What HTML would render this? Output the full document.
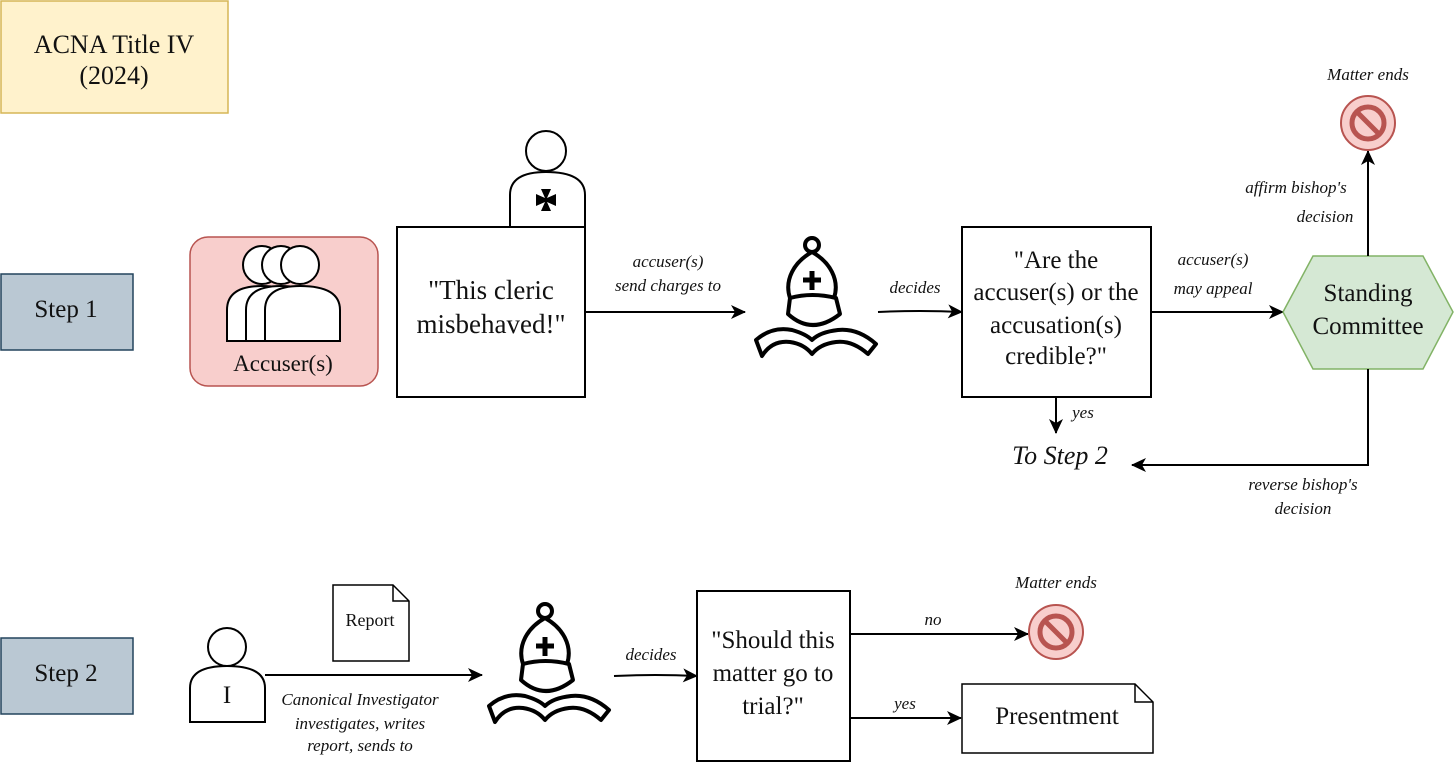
<!DOCTYPE html>
<html><head><meta charset="utf-8"><style>
body{margin:0;background:#fff}
svg text{font-family:"Liberation Serif",serif;fill:#111}
.i{font-style:italic;font-size:17px}
.b{font-size:24px}
</style></head><body>
<svg width="1456" height="764" viewBox="0 0 1456 764" xmlns="http://www.w3.org/2000/svg">
<defs>
<marker id="a" markerWidth="16" markerHeight="14" refX="14" refY="7" orient="auto" markerUnits="userSpaceOnUse">
<path d="M0,0 L15,7 L0,14 L4,7 Z" fill="#000"/></marker>
<g id="bishop" fill="#fff" stroke="#000" stroke-width="4" stroke-linejoin="round">
<circle cx="812" cy="245" r="7"/>
<path d="M790,298 C784,280 794,262 812,252 C830,262 840,280 834,298 Z"/>
<path d="M812,271 V290 M803,280 H821" stroke-width="5"/>
<path d="M790,298 Q812,292 836,298 L840,314 Q812,336 788,314 Z"/>
<path d="M756,340 Q772,326 792,330 Q806,334 812,340 Q820,332 838,330 Q858,328 876,344 L868,354 Q852,340 836,342 Q820,344 812,354 Q804,344 790,342 Q772,340 762,356 Z"/>
</g>
<g id="no">
<circle r="27" fill="#f8cecc" stroke="#b85450" stroke-width="2"/>
<circle r="16" fill="none" stroke="#b85450" stroke-width="5"/>
<line x1="-11" y1="-11" x2="11" y2="11" stroke="#b85450" stroke-width="5"/>
</g>
</defs>

<rect x="1" y="1" width="227" height="112" fill="#fff2cc" stroke="#d6b656" stroke-width="1.5"/>
<text x="114" y="53" text-anchor="middle" font-size="26">ACNA Title IV</text>
<text x="114" y="84" text-anchor="middle" font-size="26">(2024)</text>

<rect x="1" y="274" width="132" height="76" fill="#bac8d3" stroke="#23445d" stroke-width="1.5"/>
<text x="66" y="317" text-anchor="middle" font-size="25">Step 1</text>
<rect x="1" y="638" width="132" height="76" fill="#bac8d3" stroke="#23445d" stroke-width="1.5"/>
<text x="66" y="681" text-anchor="middle" font-size="25">Step 2</text>

<rect x="190" y="237" width="188" height="149" rx="18" fill="#f8cecc" stroke="#b85450" stroke-width="1.5"/>
<g fill="#fff" stroke="#000" stroke-width="2">
<circle cx="262" cy="265" r="19"/>
<path d="M227,341 V310 Q227,286 262,286 Q297,286 297,310 V341 Z"/>
<circle cx="281" cy="265" r="19"/>
<path d="M246,341 V310 Q246,286 281,286 Q316,286 316,310 V341 Z"/>
<circle cx="300" cy="265" r="19"/>
<path d="M265,341 V310 Q265,286 300,286 Q340,286 340,310 V341 Z"/>
</g>
<text x="283" y="371" text-anchor="middle" font-size="23">Accuser(s)</text>

<g fill="#fff" stroke="#000" stroke-width="2">
<circle cx="546" cy="151" r="20"/>
<path d="M510,227 V195 Q510,172 546,172 Q585,172 585,195 V227 Z"/>
</g>
<path d="M541,189 H551 L547,198 L556,194 V206 L547,202 L551,211 H541 L545,202 L536,206 V194 L545,198 Z" fill="#000"/>
<rect x="397" y="227" width="188" height="170" fill="#fff" stroke="#000" stroke-width="2"/>
<text x="491" y="299" text-anchor="middle" font-size="27">"This cleric</text>
<text x="491" y="333" text-anchor="middle" font-size="27">misbehaved!"</text>

<line x1="585" y1="312" x2="745" y2="312" stroke="#000" stroke-width="2" marker-end="url(#a)"/>
<text x="668" y="267" text-anchor="middle" class="i">accuser(s)</text>
<text x="668" y="291" text-anchor="middle" class="i">send charges to</text>

<use href="#bishop"/>
<path d="M878,312 Q920,310 962,312" fill="none" stroke="#000" stroke-width="2" marker-end="url(#a)"/>
<text x="915" y="293" text-anchor="middle" class="i">decides</text>

<rect x="962" y="227" width="189" height="170" fill="#fff" stroke="#000" stroke-width="2"/>
<g text-anchor="middle" font-size="25"><text x="1056" y="268">"Are the</text><text x="1056" y="300">accuser(s) or the</text><text x="1056" y="333">accusation(s)</text><text x="1056" y="364">credible?"</text></g>

<line x1="1151" y1="312" x2="1283" y2="312" stroke="#000" stroke-width="2" marker-end="url(#a)"/>
<text x="1213" y="265" text-anchor="middle" class="i">accuser(s)</text>
<text x="1213" y="294" text-anchor="middle" class="i">may appeal</text>

<polygon points="1283,312 1313,256 1423,256 1453,312 1423,369 1313,369" fill="#d5e8d4" stroke="#82b366" stroke-width="1.5"/>
<text x="1368" y="301" text-anchor="middle" font-size="25">Standing</text>
<text x="1368" y="334" text-anchor="middle" font-size="25">Committee</text>

<line x1="1368" y1="256" x2="1368" y2="151" stroke="#000" stroke-width="2" marker-end="url(#a)"/>
<text x="1296" y="193" text-anchor="middle" class="i">affirm bishop's</text>
<text x="1325" y="222" text-anchor="middle" class="i">decision</text>
<use href="#no" x="1368" y="123"/>
<text x="1368" y="80" text-anchor="middle" class="i">Matter ends</text>

<path d="M1368,369 V465 H1132" fill="none" stroke="#000" stroke-width="2" marker-end="url(#a)"/>
<text x="1303" y="490" text-anchor="middle" class="i">reverse bishop's</text>
<text x="1303" y="514" text-anchor="middle" class="i">decision</text>

<line x1="1056" y1="397" x2="1056" y2="433" stroke="#000" stroke-width="2" marker-end="url(#a)"/>
<text x="1083" y="418" text-anchor="middle" class="i" font-size="15">yes</text>
<text x="1060" y="464" text-anchor="middle" font-size="26" font-style="italic">To Step 2</text>

<g fill="#fff" stroke="#000" stroke-width="2">
<circle cx="227" cy="647" r="19"/>
<path d="M190,722 V688 Q190,666 227,666 Q265,666 265,688 V722 Z"/>
</g>
<text x="227" y="703" text-anchor="middle" font-size="25">I</text>

<path d="M333,585 H393 L409,601 V661 H333 Z" fill="#fff" stroke="#000" stroke-width="1.5"/>
<path d="M393,585 V601 H409" fill="none" stroke="#000" stroke-width="1.5"/>
<text x="370" y="626" text-anchor="middle" font-size="18">Report</text>

<line x1="265" y1="675" x2="482" y2="675" stroke="#000" stroke-width="2" marker-end="url(#a)"/>
<text x="360" y="705" text-anchor="middle" class="i" font-size="16">Canonical Investigator</text>
<text x="360" y="729" text-anchor="middle" class="i" font-size="16">investigates, writes</text>
<text x="360" y="751" text-anchor="middle" class="i" font-size="16">report, sends to</text>

<use href="#bishop" transform="translate(-267,366)"/>
<path d="M614,676 Q655,674 697,676" fill="none" stroke="#000" stroke-width="2" marker-end="url(#a)"/>
<text x="651" y="660" text-anchor="middle" class="i">decides</text>

<rect x="697" y="591" width="153" height="170" fill="#fff" stroke="#000" stroke-width="2"/>
<g text-anchor="middle" font-size="25"><text x="773" y="648">"Should this</text><text x="773" y="681">matter go to</text><text x="773" y="714">trial?"</text></g>

<line x1="850" y1="634" x2="1028" y2="634" stroke="#000" stroke-width="2" marker-end="url(#a)"/>
<text x="933" y="625" text-anchor="middle" class="i">no</text>
<use href="#no" x="1056" y="632"/>
<text x="1056" y="588" text-anchor="middle" class="i">Matter ends</text>

<line x1="850" y1="718" x2="961" y2="718" stroke="#000" stroke-width="2" marker-end="url(#a)"/>
<text x="905" y="709" text-anchor="middle" class="i">yes</text>
<path d="M962,684 H1135 L1153,702 V753 H962 Z" fill="#fff" stroke="#000" stroke-width="1.5"/>
<path d="M1135,684 V702 H1153" fill="none" stroke="#000" stroke-width="1.5"/>
<text x="1057" y="724" text-anchor="middle" font-size="25">Presentment</text>
</svg>
</body></html>
